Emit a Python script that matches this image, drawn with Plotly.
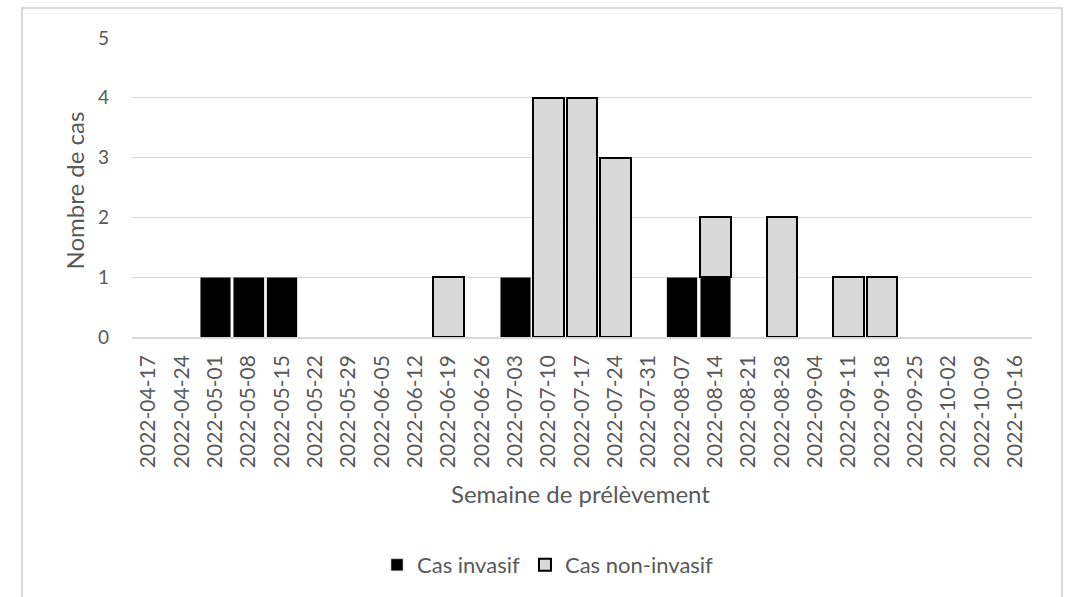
import plotly.graph_objects as go

# Weekly counts of cases by sampling week
weeks = [
    "2022-04-17", "2022-04-24", "2022-05-01", "2022-05-08", "2022-05-15",
    "2022-05-22", "2022-05-29", "2022-06-05", "2022-06-12", "2022-06-19",
    "2022-06-26", "2022-07-03", "2022-07-10", "2022-07-17", "2022-07-24",
    "2022-07-31", "2022-08-07", "2022-08-14", "2022-08-21", "2022-08-28",
    "2022-09-04", "2022-09-11", "2022-09-18", "2022-09-25", "2022-10-02",
    "2022-10-09", "2022-10-16",
]
invasif = [0, 0, 1, 1, 1, 0, 0, 0, 0, 0, 0, 1, 0, 0, 0, 0, 1, 1, 0, 0, 0, 0, 0, 0, 0, 0, 0]
non_invasif = [0, 0, 0, 0, 0, 0, 0, 0, 0, 1, 0, 0, 4, 4, 3, 0, 0, 1, 0, 2, 0, 1, 1, 0, 0, 0, 0]
y_ticks = [0, 1, 2, 3, 4, 5]

FONT = "Lato"
TXT = "#595959"
GRID = "#d9d9d9"

# Plot area in pixels (used to place titles and frame in paper units)
W, H = 1068, 597
L, R, T, B = 132, 36, 38, 259
PW, PH = W - L - R, H - T - B


def px_x(px):
    return (px - L) / PW


def px_y(py):
    return (H - B - py) / PH


def skip_zero(vals):
    # empty weeks get no bar (avoids outlined zero-height bars)
    return [v if v else None for v in vals]


fig = go.Figure()
fig.add_trace(go.Bar(
    x=weeks, y=skip_zero(invasif), name="Cas invasif",
    marker=dict(color="#000000", line=dict(color="#bfbfbf", width=0.6)),
))
fig.add_trace(go.Bar(
    x=weeks, y=skip_zero(non_invasif), name="Cas non-invasif",
    marker=dict(color="#d9d9d9", line=dict(color="#000000", width=2)),
))

fig.update_layout(
    width=W, height=H,
    margin=dict(l=L, r=R, t=T, b=B, pad=0),
    barmode="stack",
    bargap=0.08,
    plot_bgcolor="white",
    paper_bgcolor="white",
    font=dict(family=FONT, color=TXT),
    showlegend=True,
    legend=dict(
        orientation="h",
        traceorder="normal",
        x=px_x(548), y=px_y(565),
        xanchor="center", yanchor="middle",
        font=dict(family=FONT, size=22, color=TXT),
        itemwidth=30,
        bgcolor="rgba(0,0,0,0)",
    ),
    xaxis=dict(
        type="category",
        categoryorder="array", categoryarray=weeks,
        range=[-0.5, len(weeks) - 0.5],
        tickangle=-90,
        tickfont=dict(family=FONT, size=21, color=TXT),
        showgrid=False,
        showline=True, linecolor=GRID, linewidth=1.5,
        ticks="", ticklabelstandoff=8,
        zeroline=False,
    ),
    yaxis=dict(
        range=[0, 5],
        tickvals=y_ticks,
        tickfont=dict(family=FONT, size=19, color=TXT),
        showgrid=True, gridcolor=GRID, gridwidth=1.2,
        zeroline=False,
        showline=False,
        ticks="", ticklabelstandoff=22,
    ),
    annotations=[
        dict(text="Nombre de cas", xref="paper", yref="paper",
             x=px_x(74), y=px_y(191), textangle=-90, showarrow=False,
             xanchor="center", yanchor="middle",
             font=dict(family=FONT, size=24, color=TXT)),
        dict(text="Semaine de prélèvement", xref="paper", yref="paper",
             x=px_x(580), y=px_y(495), showarrow=False,
             xanchor="center", yanchor="middle",
             font=dict(family=FONT, size=24, color=TXT)),
    ],
    shapes=[
        dict(type="rect", xref="paper", yref="paper",
             x0=px_x(22), x1=px_x(1062), y0=px_y(620), y1=px_y(8),
             line=dict(color=GRID, width=2), fillcolor="rgba(0,0,0,0)",
             layer="below"),
    ],
)

fig.write_html("out.html")
